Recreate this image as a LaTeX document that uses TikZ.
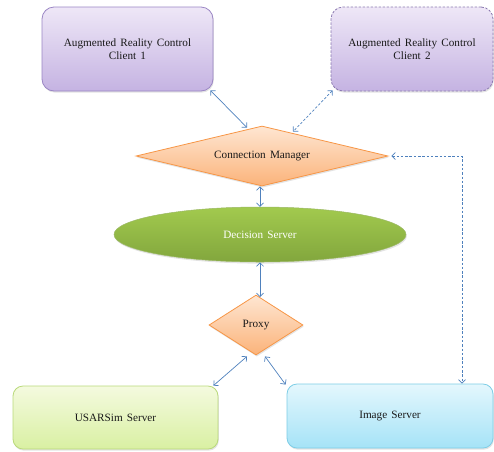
\documentclass[tikz,border=0pt]{standalone}
\usepackage{fontspec}
\setmainfont{Liberation Serif}[WordSpace={1.5}]
\usetikzlibrary{shapes.geometric,arrows.meta,shadows,calc}

\definecolor{linkblue}{HTML}{4F81BD}
\definecolor{purpleedge}{HTML}{9A86C4}
\definecolor{purpletop}{HTML}{EEE7F7}
\definecolor{purplebot}{HTML}{C5B3E2}
\definecolor{orangeedge}{HTML}{F79646}
\definecolor{orangetop}{HTML}{FEE6D2}
\definecolor{orangebot}{HTML}{FBB37A}
\definecolor{greentop}{HTML}{A2CA4E}
\definecolor{greenbot}{HTML}{82A63D}
\definecolor{limeedge}{HTML}{B9D97A}
\definecolor{limetop}{HTML}{F4FADF}
\definecolor{limebot}{HTML}{D9F0A2}
\definecolor{cyanedge}{HTML}{7DCDE6}
\definecolor{cyantop}{HTML}{E4F7FD}
\definecolor{cyanbot}{HTML}{A5E3F7}

\tikzset{
  every node/.style={font=\fontsize{11.2}{13}\selectfont, text=black!90, align=center},
  softshadow/.style={drop shadow={opacity=0.22, shadow xshift=0.8pt, shadow yshift=-1.6pt}},
  clientbox/.style={rectangle, rounded corners=12pt, draw=purpleedge, line width=0.8pt,
    top color=purpletop, bottom color=purplebot, minimum width=171pt, minimum height=84pt,
    softshadow},
  clientdash/.style={clientbox, dash pattern=on 2.5pt off 1.5pt, draw=purpleedge!90!black},
  decide/.style={diamond, draw=orangeedge, line width=0.8pt, top color=orangetop,
    bottom color=orangebot, inner sep=0pt, softshadow},
  hub/.style={ellipse, draw=greenbot!80, line width=0.5pt, top color=greentop,
    bottom color=greenbot, text=white, minimum width=292pt, minimum height=55pt, softshadow},
  serverbox/.style={rectangle, rounded corners=10pt, line width=0.8pt, softshadow},
  link/.style={draw=linkblue, line width=0.7pt,
    {Straight Barb[length=3.5pt,width=7pt]}-{Straight Barb[length=3.5pt,width=7pt]}},
  dlink/.style={link, dash pattern=on 2.5pt off 1.8pt}
}

\begin{document}
\begin{tikzpicture}[x=1pt,y=-1pt]
\useasboundingbox (0,0) rectangle (494,451);

% clients
\node[clientbox] (c1) at (127.5,49) {Augmented Reality Control\\Client 1};
\node[clientdash, minimum width=162pt] (c2) at (412,49) {Augmented Reality Control\\Client 2};

% connection manager and decision server
\node[decide, shape aspect=4.2, minimum width=252pt, minimum height=60pt] (cm) at (262,156) {Connection Manager};
\node[hub] (ds) at (260,234.5) {Decision Server};

% proxy
\node[decide, shape aspect=1.57, minimum width=94pt, minimum height=60pt] (px) at (256,325) {Proxy};

% servers
\node[serverbox, draw=limeedge, top color=limetop, bottom color=limebot,
  minimum width=205pt, minimum height=63pt] (us) at (115.5,417.5) {USARSim Server};
\node[serverbox, draw=cyanedge, top color=cyantop, bottom color=cyanbot,
  minimum width=206pt, minimum height=64pt] (img) at (390,416) {Image Server};

% connectors
\draw[link] ($(c1.south east)+(-3,-1)$) -- ($(cm.north)+(-15,2)$);
\draw[dlink] ($(c2.south west)+(2,-1)$) -- ($(cm.north)+(31,6)$);
\draw[dlink] ($(cm.east)+(3,0)$) -| ($(img.north)+(72,0)$);
\draw[link] (ds.north |- cm.south) -- (ds.north);
\draw[link] (ds.south) -- ($(ds.south |- px.north)+(0,2.5)$);
\draw[link] ($(px.south)+(-9,1)$) -- ($(us.north east)+(-5,0)$);
\draw[link] ($(px.south)+(9,1)$) -- ($(img.north west)+(-1,1)$);
\end{tikzpicture}
\end{document}
